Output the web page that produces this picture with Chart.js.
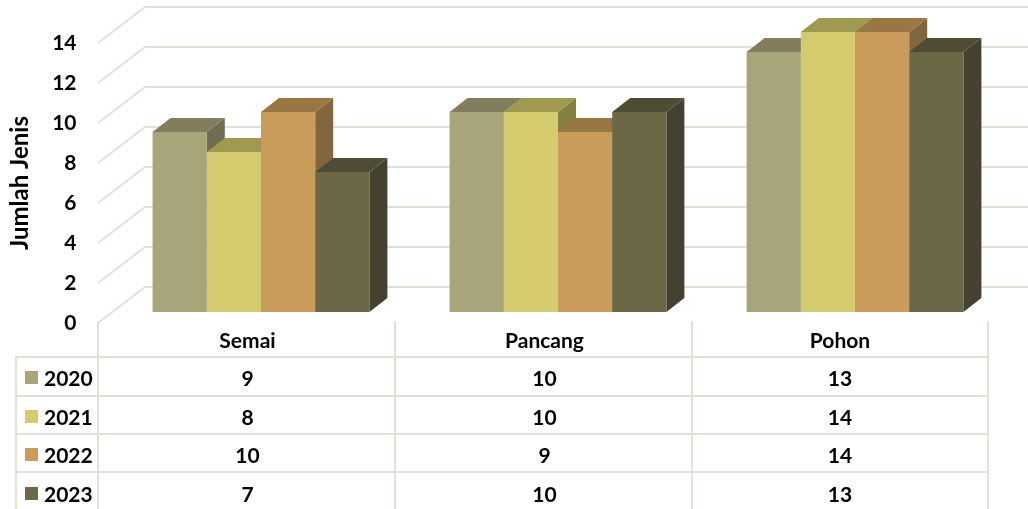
<!DOCTYPE html>
<html>
<head>
<meta charset="utf-8">
<script src="https://cdn.jsdelivr.net/npm/chart.js@4.4.1/dist/chart.umd.min.js"></script>
<style>
  body { margin: 0; background: #fff; }
  #wrap { position: relative; width: 1028px; height: 509px; overflow: hidden; font-family: Lato, 'Open Sans', sans-serif; }
  #chart { position: absolute; left: 0; top: 0; }
  .cell { position: absolute; box-sizing: border-box; font-weight: bold; font-size: 21px; color: #000;
          display: flex; align-items: center; justify-content: center; }
  .key { justify-content: flex-start; }
  .sw { display: inline-block; width: 13px; height: 13px; margin: 0 6px 0 8px; }
</style>
</head>
<body>
<div id="wrap">
  <canvas id="chart" width="1028" height="509"></canvas>
</div>
<script>
// chart data
const categories = ['Semai', 'Pancang', 'Pohon'];
const years = ['2020', '2021', '2022', '2023'];
const values2020 = [9, 10, 13];
const values2021 = [8, 10, 14];
const values2022 = [10, 9, 14];
const values2023 = [7, 10, 13];
const yTicks = [0, 2, 4, 6, 8, 10, 12, 14];

// colours: front, top, side
const fronts = ['#a8a57a', '#d4ca6e', '#c99c5c', '#6b6747'];
const tops = ['#827d5e', '#a09a50', '#987744', '#4f4c35'];
const sides = ['#6f6c52', '#868040', '#82663d', '#444130'];
const gridColor = '#e3e0d8';

const series = [values2020, values2021, values2022, values2023];
const fontFamily = 'Lato, "Open Sans", sans-serif';

// back wall + floor gridlines and 3d bar faces
const threeD = {
    id: 'threeD',
    beforeDatasetsDraw(chart) {
        const ctx = chart.ctx;
        const y = chart.scales.y;
        const depthX = 47, depthY = 36;
        ctx.save();
        ctx.strokeStyle = gridColor;
        ctx.lineWidth = 2;
        yTicks.forEach(v => {
            const fy = y.getPixelForValue(v);
            ctx.beginPath();
            ctx.moveTo(98, fy);
            ctx.lineTo(98 + depthX, fy - depthY);
            ctx.lineTo(chart.width, fy - depthY);
            ctx.stroke();
        });
        // bar tops and sides, left to right
        const dx = 18, dy = -14;
        for (let i = 0; i < categories.length; i++) {
            for (let d = 0; d < series.length; d++) {
                const bar = chart.getDatasetMeta(d).data[i];
                const p = bar.getProps(['x', 'y', 'base', 'width'], true);
                const l = p.x - p.width / 2, r = p.x + p.width / 2;
                ctx.fillStyle = sides[d];
                ctx.beginPath();
                ctx.moveTo(r, p.y);
                ctx.lineTo(r + dx, p.y + dy);
                ctx.lineTo(r + dx, p.base + dy);
                ctx.lineTo(r, p.base);
                ctx.closePath();
                ctx.fill();
                ctx.fillStyle = tops[d];
                ctx.beginPath();
                ctx.moveTo(l, p.y);
                ctx.lineTo(l + dx, p.y + dy);
                ctx.lineTo(r + dx, p.y + dy);
                ctx.lineTo(r, p.y);
                ctx.closePath();
                ctx.fill();
            }
        }
        ctx.restore();
    }
};

new Chart(document.getElementById('chart'), {
    type: 'bar',
    data: {
        labels: categories,
        datasets: series.map((vals, d) => ({
            label: years[d],
            data: vals,
            yAxisID: 'yb',
            backgroundColor: fronts[d],
            borderWidth: 0,
            categoryPercentage: 0.73,
            barPercentage: 1,
            clip: false
        }))
    },
    options: {
        responsive: false,
        devicePixelRatio: 1,
        animation: false,
        layout: { padding: { top: 43, bottom: 186, left: 0, right: 24.5 } },
        plugins: { legend: { display: false }, tooltip: { enabled: false } },
        scales: {
            x: { display: false },
            y: {
                min: 0, max: 14,
                afterFit(scale) {
                    scale.width = 112.5;
                    scale.paddingTop = 0;
                    scale.paddingBottom = 0;
                },
                ticks: { stepSize: 2, padding: 36, color: '#000', font: { family: fontFamily, size: 21, weight: 700 } },
                grid: { display: false, drawTicks: false },
                border: { display: false },
                title: {
                    display: true, text: 'Jumlah Jenis', color: '#000',
                    font: { family: fontFamily, size: 24, weight: 700 },
                    padding: { top: 6, bottom: 0 }
                }
            },
            yb: { display: false, min: -0.55, max: 13.45 }
        }
    },
    plugins: [threeD]
});

// data table under the chart
const wrap = document.getElementById('wrap');
const colX = [16, 98, 395, 692, 988];
const rowY = [322, 357, 396, 434, 472, 512];
const border = '2px solid ' + gridColor;
function addCell(x0, x1, y0, y1, html, opts) {
    const c = document.createElement('div');
    c.className = 'cell' + (opts.key ? ' key' : '');
    c.style.left = (x0 - 1) + 'px';
    c.style.top = (y0 - 1) + 'px';
    c.style.width = (x1 - x0 + 2) + 'px';
    c.style.height = (y1 - y0 + 2) + 'px';
    c.style.borderLeft = border;
    if (opts.right) c.style.borderRight = border;
    if (opts.top) c.style.borderTop = border;
    c.innerHTML = html;
    wrap.appendChild(c);
}
categories.forEach((cat, i) => {
    addCell(colX[i + 1], colX[i + 2], rowY[0], rowY[1], cat, { right: i === categories.length - 1 });
});
series.forEach((vals, d) => {
    addCell(colX[0], colX[1], rowY[d + 1], rowY[d + 2],
        '<span class="sw" style="background:' + fronts[d] + '"></span>' + years[d], { key: true, top: true });
    vals.forEach((v, i) => {
        addCell(colX[i + 1], colX[i + 2], rowY[d + 1], rowY[d + 2], String(v),
            { top: true, right: i === vals.length - 1 });
    });
});
</script>
</body>
</html>
